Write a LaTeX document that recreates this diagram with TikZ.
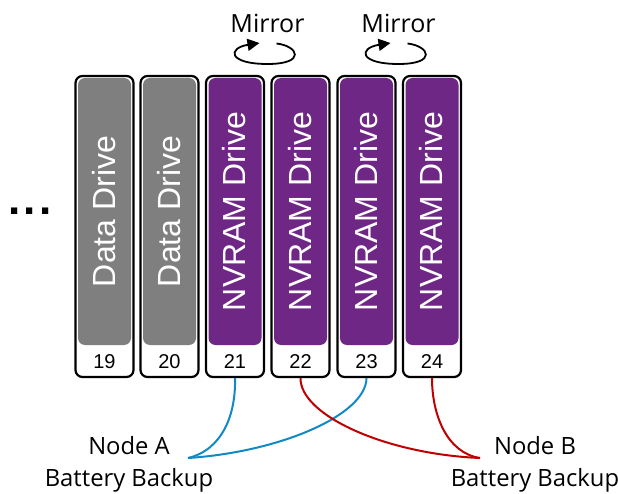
\documentclass[tikz,border=0pt]{standalone}
\usepackage{fontspec}
\setmainfont{Liberation Sans}
\newfontfamily\labelfont{Open Sans}
\usetikzlibrary{arrows.meta,calc}
\definecolor{drivepurple}{HTML}{6F2785}
\definecolor{drivegray}{HTML}{7F7F7F}
\definecolor{linkblue}{HTML}{1089C4}
\definecolor{linkred}{HTML}{C00000}
\tikzset{
  x=1pt,y=-1pt,
  bay/.style={draw=black,line width=2.2pt,fill=white,rounded corners=7pt,minimum width=58pt,minimum height=301pt,inner sep=0pt},
  media/.style={rounded corners=7pt,minimum width=53pt,minimum height=267pt,inner sep=0pt,text=white,font=\fontsize{32pt}{32pt}\selectfont},
  num/.style={font=\fontsize{20pt}{20pt}\selectfont,inner sep=0pt},
  lbl/.style={font=\labelfont\fontsize{23.8pt}{24pt}\selectfont,inner sep=0pt},
  mir/.style={font=\labelfont\fontsize{25pt}{25pt}\selectfont,inner sep=0pt},
  bluelink/.style={draw=linkblue,line width=2pt},
  redlink/.style={draw=linkred,line width=2pt},
  loop/.style={draw=black,line width=1.8pt,-{Triangle[length=12pt,width=12pt]}},
}
\newcommand{\drivebay}[4]{%
  \node[bay] (b#1) at (#2,226.5) {};
  \node[media,fill=#3] (m#1) at (#2,211.5) {\rotatebox{90}{\raisebox{1.5pt}{#4}}};
  \node[num] (n#1) at (#2,362) {#1};
}
\begin{document}
\begin{tikzpicture}
\useasboundingbox (0,0) rectangle (618,494);
\drivebay{19}{104.5}{drivegray}{Data Drive}
\drivebay{20}{169.5}{drivegray}{Data Drive}
\drivebay{21}{235}{drivepurple}{NVRAM Drive}
\drivebay{22}{300.5}{drivepurple}{NVRAM Drive}
\drivebay{23}{366.5}{drivepurple}{NVRAM Drive}
\drivebay{24}{432}{drivepurple}{NVRAM Drive}
\node[font=\bfseries\fontsize{44pt}{44pt}\selectfont,inner sep=0pt] (dots) at (30,211) {.\hspace{3pt}.\hspace{3pt}.};
\node[mir] (m1) at (267.5,23) {Mirror};
\node[mir] (m2) at (398.5,23) {Mirror};
\coordinate (c1) at (267.5,54);
\coordinate (c2) at (398.5,54);
\draw[loop] ($(c1)+(9,-10.5)$) .. controls ($(c1)+(31,-8)$) and ($(c1)+(39,10)$) .. ($(c1)+(0,10)$) .. controls ($(c1)+(-40,10)$) and ($(c1)+(-40,-6)$) .. ($(c1)+(-8,-11)$);
\draw[loop] ($(c2)+(9,-10.5)$) .. controls ($(c2)+(31,-8)$) and ($(c2)+(39,10)$) .. ($(c2)+(0,10)$) .. controls ($(c2)+(-40,10)$) and ($(c2)+(-40,-6)$) .. ($(c2)+(-8,-11)$);
\node[lbl] (na) at (129,446) {Node A};
\node[lbl] (ba) at (129,480) {Battery Backup};
\node[lbl] (nb) at (535,446) {Node B};
\node[lbl] (bb) at (535,480) {Battery Backup};
\coordinate (ja) at (188,458);
\coordinate (jb) at (480,458);
\draw[bluelink] (b21.south) .. controls (236,415) and (222,450) .. (ja);
\draw[bluelink] (b23.south) .. controls (366,415) and (280,452) .. (ja);
\draw[redlink] (b22.south) .. controls (300,415) and (385,454) .. (jb);
\draw[redlink] (b24.south) .. controls (432,415) and (447,453) .. (jb);
\end{tikzpicture}
\end{document}
